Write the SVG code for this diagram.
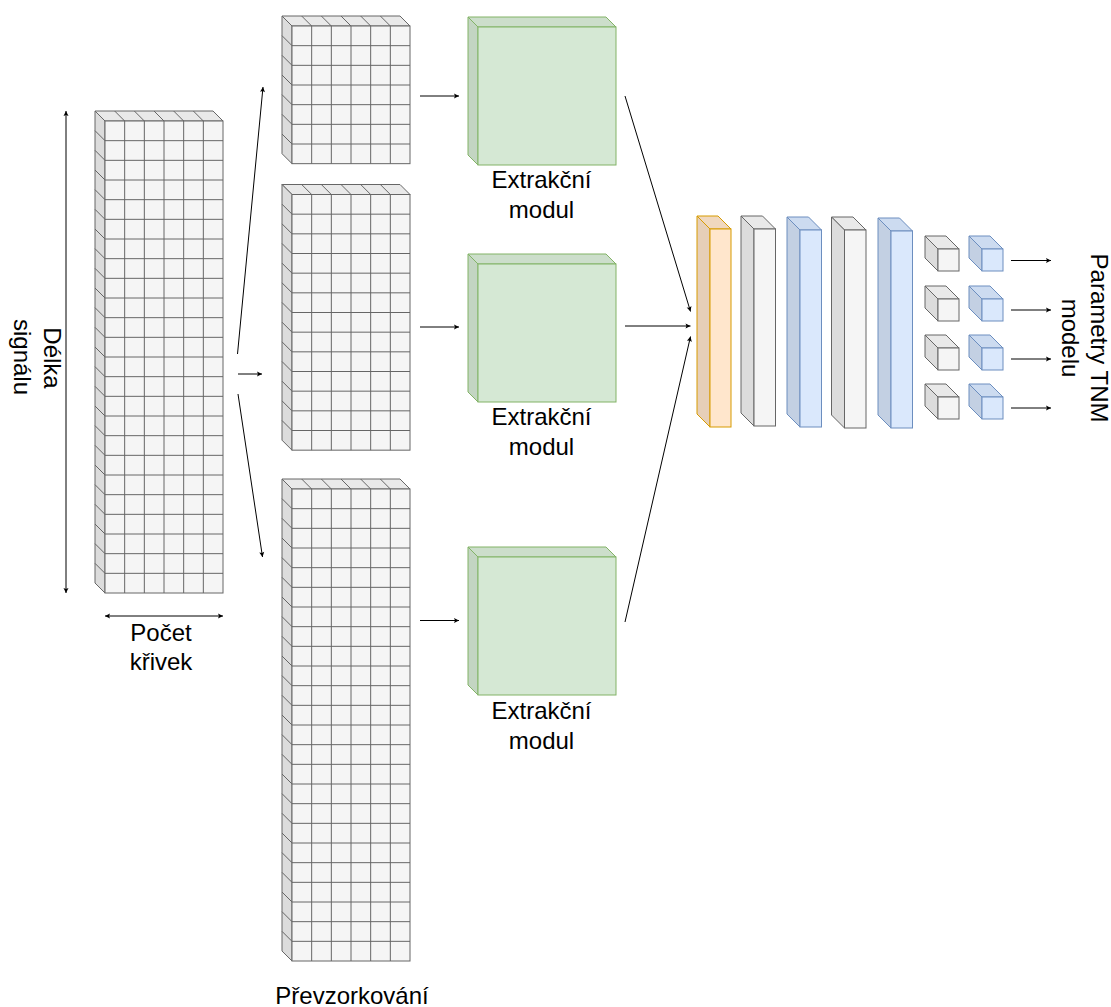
<svg xmlns="http://www.w3.org/2000/svg" width="1111" height="1007" viewBox="0 0 1111 1007">
<style>
.g{stroke:#666;stroke-width:1;fill:#f5f5f5}
.gs{fill:#dcdcdc}.gt{fill:#e9e9e9}
.gl{fill:none;stroke:#666;stroke-width:1}
.n{stroke:#82b366;fill:#d5e8d4}.ns{fill:#c3d5c2}.nt{fill:#ccdecb}
.b{stroke:#6c8ebf;fill:#dae8fc}.bs{fill:#c3d0e3}.bt{fill:#ccdbf0}
.o{stroke:#d79b00;fill:#ffe6cc}.os{fill:#e6cfb8}.ot{fill:#f0d8bf}
.c{fill:none;stroke:#000;stroke-width:1;marker-end:url(#a)}
.d{marker-start:url(#as)}
text{font-family:"Liberation Sans",Arial,sans-serif;font-size:24px;fill:#000;text-anchor:middle}
</style>
<defs>
<marker id="a" markerUnits="userSpaceOnUse" markerWidth="8" markerHeight="8" refX="6" refY="4" orient="auto"><path d="M1 1.500L6 4L1 6.500L2 4Z" fill="#000"/></marker>
<marker id="as" markerUnits="userSpaceOnUse" markerWidth="8" markerHeight="8" refX="2" refY="4" orient="auto"><path d="M7 1.500L2 4L7 6.500L6 4Z" fill="#000"/></marker>
<g id="head">
<path class="g gt" d="M0 0l-10-10h118l10 10z"/>
<path class="gl" d="M19.670 0l-10-10m29.660 10l-10-10m29.670 10l-10-10m29.670 10l-10-10m29.660 10l-10-10"/>
</g>
<g id="grid7">
<use href="#head"/>
<path class="g gs" d="M0 0l-10-10v137.670l10 10z"/>
<rect class="g" x="0" y="0" width="118" height="137.670"/>
<path class="gl" d="M19.670 0v137.670M39.330 0v137.670M59 0v137.670M78.670 0v137.670M98.330 0v137.670"/>
<path class="gl" d="M0 19.670h118m-118 19.660h118m-118 19.670h118m-118 19.670h118m-118 19.660h118m-118 19.670h118"/>
<path class="gl" d="M0 19.670l-10-10m10 29.660l-10-10m10 29.670l-10-10m10 29.670l-10-10m10 29.660l-10-10m10 29.670l-10-10"/>
</g>
<g id="grid13">
<use href="#head"/>
<path class="g gs" d="M0 0l-10-10v255.670l10 10z"/>
<rect class="g" x="0" y="0" width="118" height="255.670"/>
<path class="gl" d="M19.670 0v255.670M39.330 0v255.670M59 0v255.670M78.670 0v255.670M98.330 0v255.670"/>
<path class="gl" d="M0 19.670h118m-118 19.660h118m-118 19.670h118m-118 19.670h118m-118 19.660h118m-118 19.670h118m-118 19.670h118m-118 19.660h118m-118 19.670h118m-118 19.670h118m-118 19.660h118m-118 19.670h118"/>
<path class="gl" d="M0 19.670l-10-10m10 29.660l-10-10m10 29.670l-10-10m10 29.670l-10-10m10 29.660l-10-10m10 29.670l-10-10m10 29.670l-10-10m10 29.660l-10-10m10 29.670l-10-10m10 29.670l-10-10m10 29.660l-10-10m10 29.670l-10-10"/>
</g>
<g id="grid24">
<use href="#head"/>
<path class="g gs" d="M0 0l-10-10v472l10 10z"/>
<rect class="g" x="0" y="0" width="118" height="472"/>
<path class="gl" d="M19.670 0v472M39.330 0v472M59 0v472M78.670 0v472M98.330 0v472"/>
<path class="gl" d="M0 19.670h118m-118 19.660h118m-118 19.670h118m-118 19.670h118m-118 19.660h118m-118 19.670h118m-118 19.670h118m-118 19.660h118m-118 19.670h118m-118 19.670h118m-118 19.660h118m-118 19.670h118m-118 19.670h118m-118 19.660h118m-118 19.670h118m-118 19.670h118m-118 19.660h118m-118 19.670h118m-118 19.670h118m-118 19.660h118m-118 19.670h118m-118 19.670h118m-118 19.660h118"/>
<path class="gl" d="M0 19.670l-10-10m10 29.660l-10-10m10 29.670l-10-10m10 29.670l-10-10m10 29.660l-10-10m10 29.670l-10-10m10 29.670l-10-10m10 29.660l-10-10m10 29.670l-10-10m10 29.670l-10-10m10 29.660l-10-10m10 29.670l-10-10m10 29.670l-10-10m10 29.660l-10-10m10 29.670l-10-10m10 29.670l-10-10m10 29.660l-10-10m10 29.670l-10-10m10 29.670l-10-10m10 29.660l-10-10m10 29.670l-10-10m10 29.670l-10-10m10 29.660l-10-10"/>
</g>
<g id="extract">
<path class="n nt" d="M468 17h138l10 10h-138z"/>
<path class="n ns" d="M468 17l10 10v138l-10-10z"/>
<rect class="n" x="478" y="27" width="138" height="138"/>
</g>
<g id="gcube">
<path class="g gt" d="M0 0h21l13 13h-21z"/>
<path class="g gs" d="M0 0l13 13v22l-13-13z"/>
<rect class="g" x="13" y="13" width="21" height="22"/>
</g>
<g id="bcube">
<path class="b bt" d="M0 0h21l13 13h-21z"/>
<path class="b bs" d="M0 0l13 13v22l-13-13z"/>
<rect class="b" x="13" y="13" width="21" height="22"/>
</g>
</defs>
<g id="input"><use href="#grid24" x="105" y="121"/></g>
<g id="scale1"><use href="#grid7" x="292" y="26"/></g>
<g id="scale2"><use href="#grid13" x="292" y="194.500"/></g>
<g id="scale3"><use href="#grid24" x="292" y="489"/></g>
<g id="extract1"><use href="#extract"/></g>
<g id="extract2"><use href="#extract" y="237"/></g>
<g id="extract3"><use href="#extract" y="530"/></g>
<g id="layer1">
<path class="o ot" d="M697 216h21l13 13h-21z"/>
<path class="o os" d="M697 216l13 13v198l-13-13z"/>
<rect class="o" x="710" y="229" width="21" height="198"/>
</g>
<g id="layer2">
<path class="g gt" d="M741 216h21.500l13 13h-21.500z"/>
<path class="g gs" d="M741 216l13 13v197l-13-13z"/>
<rect class="g" x="754" y="229" width="21.500" height="197"/>
</g>
<g id="layer3">
<path class="b bt" d="M787 217h21.500l13 13h-21.500z"/>
<path class="b bs" d="M787 217l13 13v197l-13-13z"/>
<rect class="b" x="800" y="230" width="21.500" height="197"/>
</g>
<g id="layer4">
<path class="g gt" d="M831.500 217h21.500l13 13h-21.500z"/>
<path class="g gs" d="M831.500 217l13 13v198l-13-13z"/>
<rect class="g" x="844.500" y="230" width="21.500" height="198"/>
</g>
<g id="layer5">
<path class="b bt" d="M878 218h21.500l13 13h-21.500z"/>
<path class="b bs" d="M878 218l13 13v197l-13-13z"/>
<rect class="b" x="891" y="231" width="21.500" height="197"/>
</g>
<g id="out1g"><use href="#gcube" x="925" y="236"/></g>
<g id="out1b"><use href="#bcube" x="969" y="236"/></g>
<g id="out2g"><use href="#gcube" x="925" y="286"/></g>
<g id="out2b"><use href="#bcube" x="969" y="286"/></g>
<g id="out3g"><use href="#gcube" x="925" y="335"/></g>
<g id="out3b"><use href="#bcube" x="969" y="335"/></g>
<g id="out4g"><use href="#gcube" x="925" y="384"/></g>
<g id="out4b"><use href="#bcube" x="969" y="384"/></g>
<g id="connectors">
<path class="c d" d="M66 111V593"/>
<path class="c d" d="M105 616H223"/>
<path class="c" d="M237.500 354L263 87"/>
<path class="c" d="M238 374H262"/>
<path class="c" d="M238 394L262.500 557"/>
<path class="c" d="M420 96H459"/>
<path class="c" d="M420 327H459"/>
<path class="c" d="M420 620.500H459"/>
<path class="c" d="M625 96L690.500 311.500"/>
<path class="c" d="M625 326H690.500"/>
<path class="c" d="M625 622L690.500 336.500"/>
<path class="c" d="M1011 260.500H1051"/>
<path class="c" d="M1011 310H1051"/>
<path class="c" d="M1011 359H1051"/>
<path class="c" d="M1011 408H1051"/>
</g>
<g id="labels">
<text x="541.500" y="188">Extrakční</text><text x="541.500" y="218">modul</text>
<text x="541.500" y="425">Extrakční</text><text x="541.500" y="455">modul</text>
<text x="541.500" y="719">Extrakční</text><text x="541.500" y="749">modul</text>
<text x="161" y="641">Počet</text><text x="161" y="670">křivek</text>
<text x="352" y="1004">Převzorkování</text>
<text transform="translate(44 358) rotate(90)">Délka</text>
<text transform="translate(14 357) rotate(90)">signálu</text>
<text transform="translate(1091 338) rotate(90)">Parametry TNM</text>
<text transform="translate(1062 338) rotate(90)">modelu</text>
</g>
</svg>
